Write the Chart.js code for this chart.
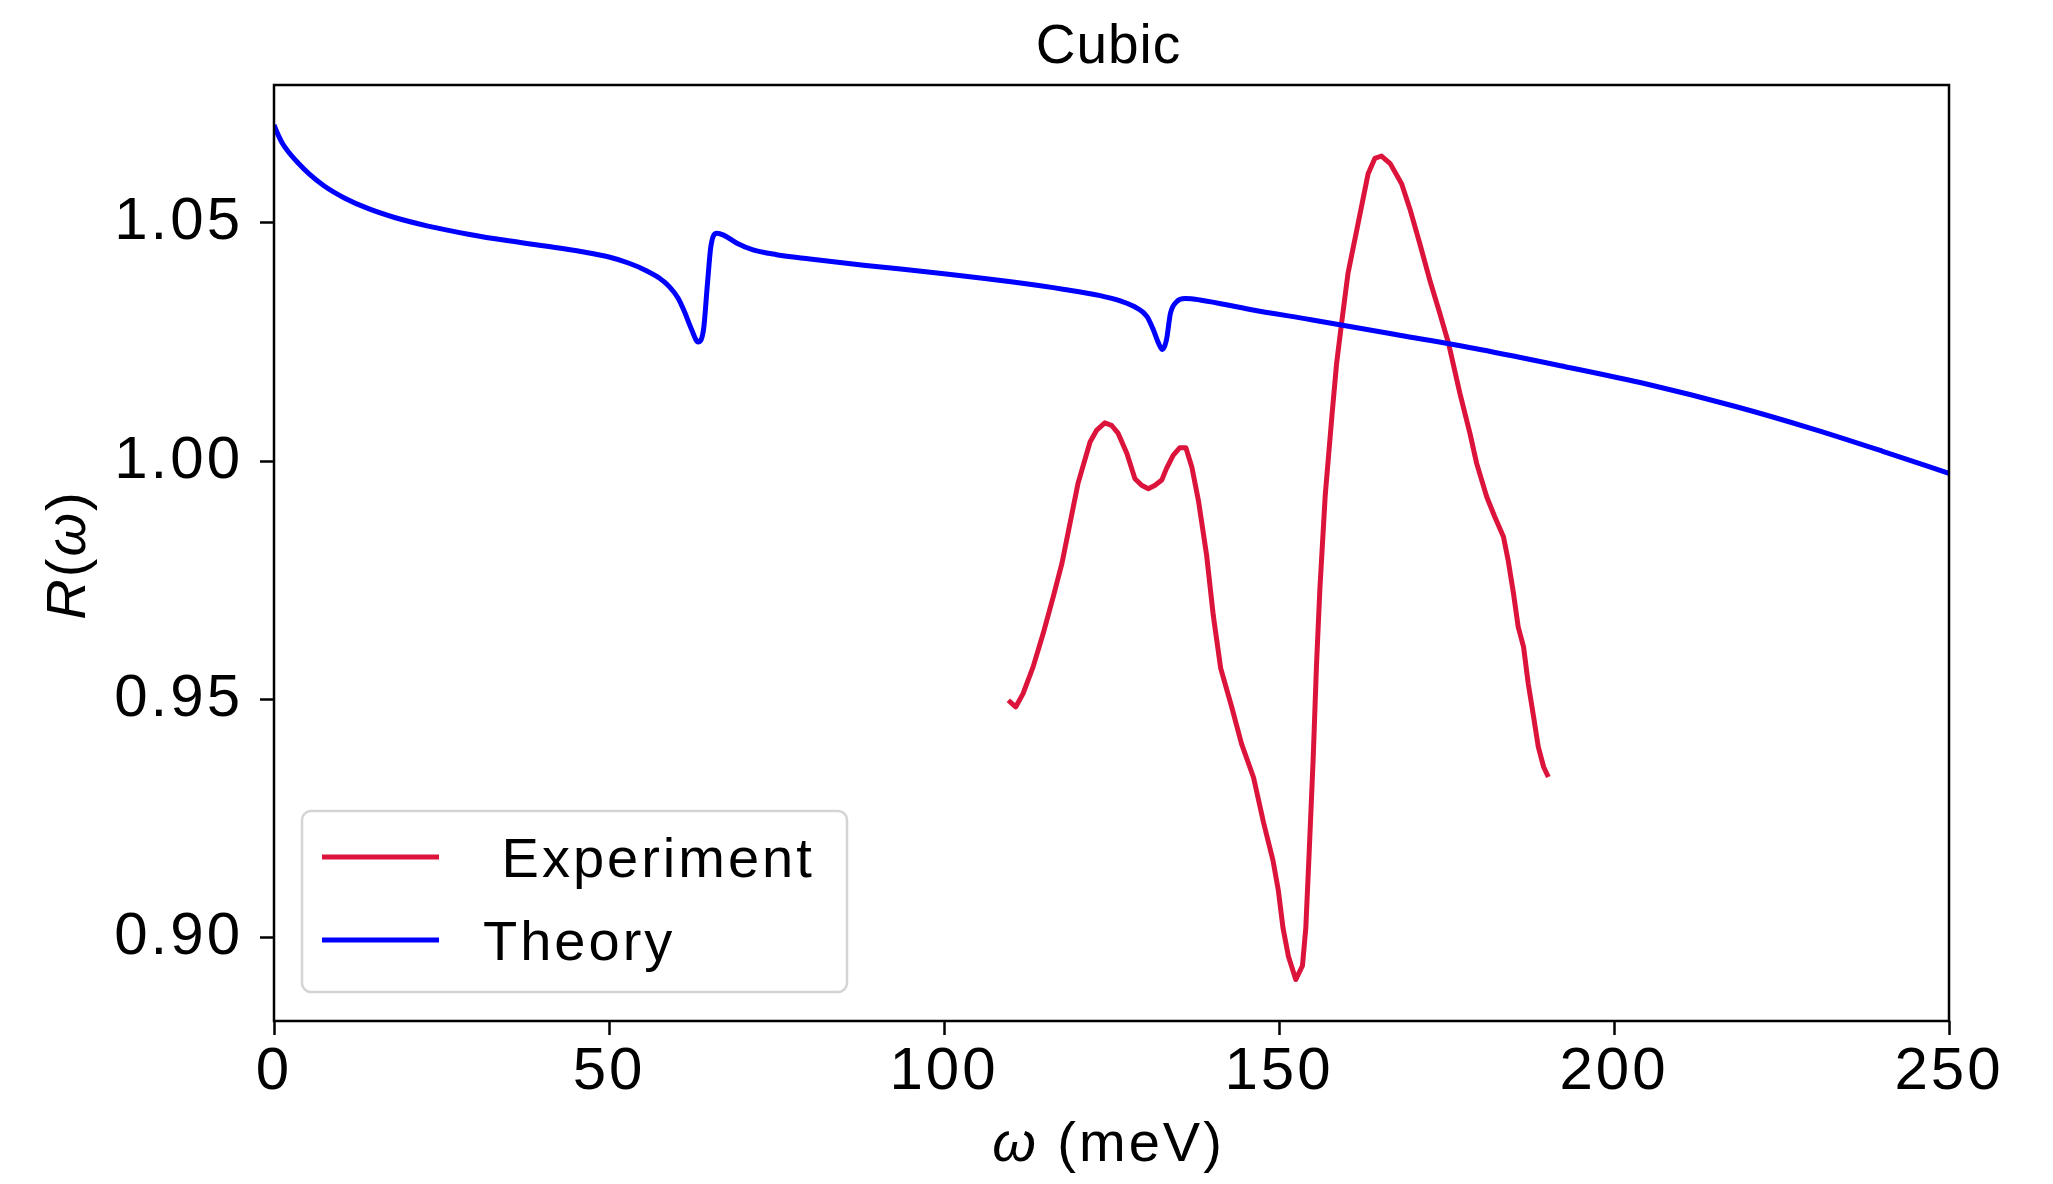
<!DOCTYPE html>
<html>
<head>
<meta charset="utf-8">
<title>Cubic</title>
<script src="https://cdn.jsdelivr.net/npm/chart.js@4.4.1/dist/chart.umd.min.js"></script>
<style>
  html, body { margin: 0; padding: 0; background: #ffffff; }
  canvas { display: block; }
</style>
</head>
<body>
<canvas id="chart" width="2053" height="1184"></canvas>
<script>
// Measured reflectance R(omega), omega in meV
const experimentOmega = [109.6, 110.7, 111.8, 113.3, 114.8, 116.3, 117.6, 118.8, 120.0, 121.8,
  122.8, 124.0, 125.0, 126.0, 127.3, 128.5, 129.5, 130.5, 131.5, 132.5,
  133.2, 134.2, 135.2, 136.1, 137.0, 138.0, 139.2, 140.2, 141.3, 142.9,
  144.4, 146.2, 147.7, 149.1, 149.9, 150.6, 151.4, 152.5, 153.5, 154.0,
  154.5, 155.1, 155.6, 156.1, 156.9, 157.9, 158.6, 159.4, 160.3, 161.6,
  162.6, 163.3, 164.3, 165.3, 166.6, 168.3, 169.6, 171.0, 172.5, 174.0,
  175.3, 177.0, 178.5, 179.5, 181.0, 182.2, 183.5, 184.2, 185.0, 185.7,
  186.5, 187.2, 188.0, 188.7, 189.5, 190.2];
const experimentR = [0.9498, 0.9484, 0.9512, 0.9568, 0.9638, 0.9715, 0.9785, 0.9869, 0.9953, 1.0040,
  1.0065, 1.0080, 1.0075, 1.0058, 1.0016, 0.9963, 0.9949, 0.9942, 0.9949, 0.9960,
  0.9984, 1.0012, 1.0028, 1.0028, 0.9987, 0.9915, 0.9802, 0.9675, 0.9565, 0.9486,
  0.9407, 0.9336, 0.9241, 0.9162, 0.9099, 0.9020, 0.8961, 0.8912, 0.8941, 0.9020,
  0.9178, 0.9375, 0.9573, 0.9731, 0.9928, 1.0095, 1.0205, 1.0296, 1.0394, 1.0484,
  1.0554, 1.0603, 1.0635, 1.0640, 1.0624, 1.0582, 1.0526, 1.0457, 1.0380, 1.0310,
  1.0247, 1.0142, 1.0058, 0.9995, 0.9925, 0.9883, 0.9841, 0.9792, 0.9722, 0.9652,
  0.9610, 0.9533, 0.9463, 0.9400, 0.9358, 0.9337];

// Calculated reflectance R(omega)
const theoryOmega = [0, 0.5, 1.2, 2.2, 3.5, 5.2, 7.5, 10.5, 14.0, 18.0,
  23.0, 29.0, 35.0, 41.0, 46.0, 50.0, 53.0, 55.5, 57.5, 59.0,
  60.3, 61.3, 62.3, 63.3, 64.1, 64.7, 65.2, 66.1, 67.1, 69.1,
  71.5, 75.0, 80.0, 88.0, 100.0, 110.0, 118.0, 123.3, 126.3, 128.8,
  130.3, 131.2, 132.0, 132.6, 133.2, 133.8, 134.7, 136.0, 138.2, 145.7,
  155.0, 168.0, 180.0, 192.0, 205.0, 218.0, 230.0, 240.0, 250.0];
const theoryR = [1.0705, 1.0688, 1.0668, 1.0648, 1.0627, 1.0603, 1.0577, 1.0552, 1.0530, 1.0511,
  1.0493, 1.0476, 1.0462, 1.0450, 1.0439, 1.0428, 1.0415, 1.0400, 1.0384, 1.0366,
  1.0342, 1.0312, 1.0277, 1.0250, 1.0275, 1.0373, 1.0450, 1.0478, 1.0474, 1.0457,
  1.0443, 1.0433, 1.0424, 1.0411, 1.0393, 1.0376, 1.0360, 1.0347, 1.0336, 1.0321,
  1.0303, 1.0277, 1.0248, 1.0234, 1.0254, 1.0310, 1.0334, 1.0341, 1.0338, 1.0318,
  1.0296, 1.0264, 1.0234, 1.0200, 1.0161, 1.0115, 1.0066, 1.0021, 0.9974];

const xTicks = [0, 50, 100, 150, 200, 250];
const yTicks = [0.90, 0.95, 1.00, 1.05];
const seriesNames = [' Experiment', 'Theory'];
const seriesColors = ['#DC143C', '#0000FF'];
const chartTitle = 'Cubic';

const FONT = "'Liberation Sans', Arial, Helvetica, sans-serif";

function toPoints(xs, ys) {
  return xs.map((x, i) => ({ x: x, y: ys[i] }));
}

// Draws a row of text pieces, some italic, as one line
function drawRuns(ctx, runs, x, y, size, align) {
  const widths = runs.map(r => {
    ctx.font = (r.italic ? 'italic ' : '') + size + 'px ' + FONT;
    return ctx.measureText(r.text).width;
  });
  const total = widths.reduce((a, b) => a + b, 0);
  let cx = align === 'center' ? x - total / 2 : x;
  ctx.textAlign = 'left';
  ctx.textBaseline = 'alphabetic';
  runs.forEach((r, i) => {
    ctx.font = (r.italic ? 'italic ' : '') + size + 'px ' + FONT;
    ctx.fillText(r.text, cx, y);
    cx += widths[i];
  });
}

const decorPlugin = {
  id: 'decor',
  beforeDraw(chart) {
    chart.ctx.letterSpacing = '3px';
  },
  beforeDatasetsDraw(chart) {
    chart.ctx.letterSpacing = '0px';
  },
  afterDatasetsDraw(chart) {
    const ctx = chart.ctx;
    const a = chart.chartArea;
    ctx.save();

    // frame around the plotting area
    ctx.strokeStyle = '#000000';
    ctx.lineWidth = 2.5;
    ctx.strokeRect(a.left, a.top, a.right - a.left, a.bottom - a.top);

    // legend box
    const bx = a.left + 28, by = a.bottom - 210, bw = 545, bh = 181;
    ctx.beginPath();
    ctx.roundRect(bx, by, bw, bh, 9);
    ctx.fillStyle = 'rgba(255,255,255,0.8)';
    ctx.fill();
    ctx.strokeStyle = '#d4d4d4';
    ctx.lineWidth = 2.5;
    ctx.stroke();

    ctx.letterSpacing = '3px';
    chart.data.datasets.forEach((ds, i) => {
      const ly = by + 46 + i * 83;
      ctx.beginPath();
      ctx.moveTo(bx + 20, ly);
      ctx.lineTo(bx + 137, ly);
      ctx.strokeStyle = ds.borderColor;
      ctx.lineWidth = 5;
      ctx.stroke();
      ctx.fillStyle = '#000000';
      drawRuns(ctx, [{ text: ds.label }], bx + 181, ly + 20, 56, 'left');
    });

    // title
    ctx.fillStyle = '#000000';
    ctx.letterSpacing = '1px';
    drawRuns(ctx, [{ text: chartTitle }], (a.left + a.right) / 2 - 3, 63, 55, 'center');

    // x axis title
    ctx.letterSpacing = '3px';
    drawRuns(ctx, [{ text: '\u03C9', italic: true }, { text: ' (meV)' }],
      (a.left + a.right) / 2 - 3, 1161, 56, 'center');

    // y axis title
    ctx.save();
    ctx.translate(85, (a.top + a.bottom) / 2 + 2);
    ctx.rotate(-Math.PI / 2);
    ctx.letterSpacing = '2px';
    drawRuns(ctx, [{ text: 'R', italic: true }, { text: '(' }, { text: '\u03C9', italic: true }, { text: ')' }],
      0, 0, 56, 'center');
    ctx.restore();

    ctx.restore();
  }
};

const tickFont = { family: FONT, size: 60 };
const tickGrid = {
  display: true,
  drawOnChartArea: false,
  drawTicks: true,
  tickLength: 14,
  tickWidth: 2.5,
  tickColor: '#000000'
};

new Chart(document.getElementById('chart'), {
  type: 'line',
  data: {
    datasets: [
      {
        label: seriesNames[0],
        data: toPoints(experimentOmega, experimentR),
        borderColor: seriesColors[0],
        borderWidth: 5,
        pointRadius: 0,
        tension: 0,
        fill: false,
        borderJoinStyle: 'round',
        order: 1
      },
      {
        label: seriesNames[1],
        data: toPoints(theoryOmega, theoryR),
        borderColor: seriesColors[1],
        borderWidth: 5,
        pointRadius: 0,
        cubicInterpolationMode: 'monotone',
        fill: false,
        borderJoinStyle: 'round',
        order: 0
      }
    ]
  },
  options: {
    responsive: false,
    devicePixelRatio: 1,
    animation: false,
    events: [],
    layout: { padding: { top: 85, right: 104, bottom: 0, left: 0 } },
    plugins: {
      legend: { display: false },
      title: { display: false },
      tooltip: { enabled: false }
    },
    scales: {
      x: {
        type: 'linear',
        min: 0,
        max: 250,
        afterBuildTicks: s => { s.ticks = xTicks.map(v => ({ value: v })); },
        afterFit: s => { s.height = 163; },
        ticks: {
          font: tickFont,
          color: '#000000',
          padding: 1,
          maxRotation: 0,
          autoSkip: false,
          callback: v => String(v)
        },
        grid: tickGrid,
        border: { display: false }
      },
      y: {
        type: 'linear',
        min: 0.8825,
        max: 1.0789,
        afterBuildTicks: s => { s.ticks = yTicks.map(v => ({ value: v })); },
        afterFit: s => { s.width = 274; },
        ticks: {
          font: tickFont,
          color: '#000000',
          padding: 17,
          autoSkip: false,
          callback: v => v.toFixed(2)
        },
        grid: tickGrid,
        border: { display: false }
      }
    }
  },
  plugins: [decorPlugin]
});
</script>
</body>
</html>
